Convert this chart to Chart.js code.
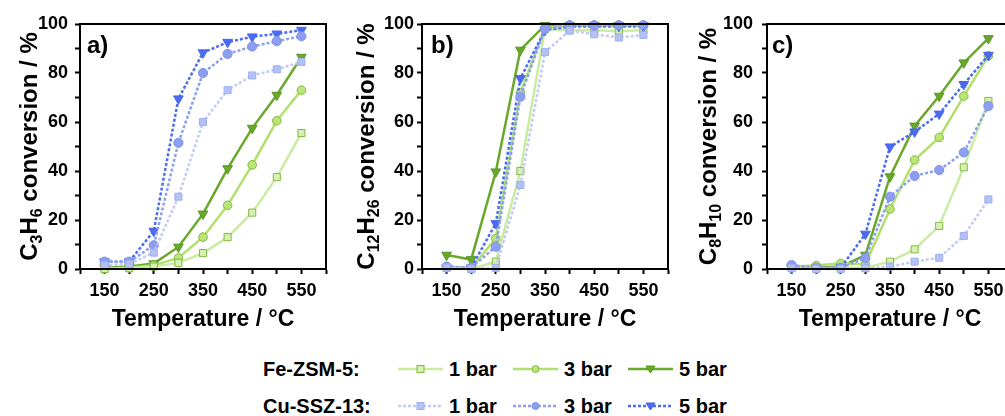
<!DOCTYPE html>
<html><head><meta charset="utf-8">
<script src="https://cdn.jsdelivr.net/npm/chart.js@4/dist/chart.umd.min.js"></script>
<style>
html,body{margin:0;padding:0;background:#fff;width:1005px;height:416px;overflow:hidden;position:relative;font-family:"Liberation Sans",Arial,sans-serif;}
canvas.panel{position:absolute;top:0;}
.lg{position:absolute;font-weight:bold;font-size:20px;line-height:24px;color:#000;white-space:nowrap;}
svg.smp{position:absolute;}
</style></head><body>
<canvas class="panel" id="pa" width="340" height="340" style="left:0px"></canvas>
<canvas class="panel" id="pb" width="340" height="340" style="left:342px"></canvas>
<canvas class="panel" id="pc" width="340" height="340" style="left:687px"></canvas>
<div id="legend"></div>
<script>
// ---- data ----
const temperatures = [150, 200, 250, 300, 350, 400, 450, 500, 550];
const xTickLabels = [150, 250, 350, 450, 550];
const yTickLabels = [0, 20, 40, 60, 80, 100];
const seriesNames = ['Fe-ZSM-5 1 bar','Fe-ZSM-5 3 bar','Fe-ZSM-5 5 bar','Cu-SSZ-13 1 bar','Cu-SSZ-13 3 bar','Cu-SSZ-13 5 bar'];
const legendGroups = ['Fe-ZSM-5:', 'Cu-SSZ-13:'];
const legendItems = ['1 bar', '3 bar', '5 bar'];
const panelLetters = ['a)', 'b)', 'c)'];
// y-axis titles as [text, isSubscript] pieces
const yTitleA = [['C', 0], ['3', 1], ['H', 0], ['6', 1], [' conversion / %', 0]];
const yTitleB = [['C', 0], ['12', 1], ['H', 0], ['26', 1], [' conversion / %', 0]];
const yTitleC = [['C', 0], ['8', 1], ['H', 0], ['10', 1], [' conversion / %', 0]];
const xTitle = 'Temperature / °C';

// panel a: C3H6
const a_fe1 = [0, 0.3, 1, 2.5, 6.5, 13, 23, 37.5, 55.5];
const a_fe3 = [0.2, 0.5, 1.5, 4.5, 13, 26, 42.5, 60.5, 73];
const a_fe5 = [0.5, 1, 2.2, 9, 22.5, 41, 57.5, 71, 86.5];
const a_cu1 = [1.5, 2, 6.7, 29.5, 60, 73, 79, 81.5, 84.5];
const a_cu3 = [3, 3, 9.7, 51.5, 80, 87.8, 90.8, 93, 95];
const a_cu5 = [3, 3, 15.5, 69.5, 88.3, 92.6, 94.8, 96, 97.5];
// panel b: C12H26
const b_fe1 = [0.5, 0, 3, 40, 98, 97.5, 97.5, 97, 97.5];
const b_fe3 = [1, 0.3, 12.5, 72, 98.5, 99.5, 99.5, 99.5, 99.5];
const b_fe5 = [5.7, 3.9, 39.7, 89.4, 99.5, 99.5, 99.5, 99.5, 99.5];
const b_cu1 = [0.5, 0, 0.5, 34.3, 88.5, 97.3, 95.8, 94.5, 95.5];
const b_cu3 = [1, 0.5, 9.1, 70.3, 98, 99.5, 99.5, 99.5, 99.5];
const b_cu5 = [0.5, 0.5, 18.6, 77.8, 97.5, 99, 99, 99, 99];
// panel c: C8H10
const c_fe1 = [0.5, 0.3, 0.5, 0.5, 3, 8, 17.6, 41.5, 68.6];
const c_fe3 = [1, 1.4, 2.3, 1.9, 24.5, 44.5, 53.7, 70.6, 87];
const c_fe5 = [0.5, 0.5, 1, 5.7, 37.7, 58.4, 70.6, 84.2, 94.1];
const c_cu1 = [0.3, 0, 0, 0.3, 1, 3, 4.6, 13.5, 28.4];
const c_cu3 = [1.6, 0.5, 0.5, 4.4, 29.5, 38, 40.4, 47.6, 66.5];
const c_cu5 = [0.5, 0.3, 0.5, 14.3, 49.9, 56, 63.3, 75.4, 87.3];

// ---- styles ----
const styles = [
  {line:'#c9eca0', fill:'#d6f2b2', edge:'#86b843', shape:'rect',     r:5,   rot:0,   dash:[],    w:2.5},
  {line:'#b1e06e', fill:'#b9e677', edge:'#86b843', shape:'circle',   r:4.3, rot:0,   dash:[],    w:2.5},
  {line:'#68a82a', fill:'#68a82a', edge:'#5a9623', shape:'triangle', r:5.6, rot:180, dash:[],    w:2.5},
  {line:'#c3cbf5', fill:'#b4c1f5', edge:'#9fb0f0', shape:'rect',     r:5,   rot:0,   dash:[3,2], w:2.5},
  {line:'#8c9ef0', fill:'#8c9ef0', edge:'#8092ee', shape:'circle',   r:4.6, rot:0,   dash:[3,2], w:2.5},
  {line:'#4b6bf0', fill:'#4b6bf0', edge:'#4565ee', shape:'triangle', r:5.6, rot:180, dash:[3,2], w:2.5}
];

const FONT = '"Liberation Sans", Arial, sans-serif';

const framePlugin = {
  id: 'frame',
  afterDraw(chart, args, opts) {
    const {ctx, chartArea: {left, top, right, bottom}} = chart;
    ctx.save();
    ctx.strokeStyle = '#000';
    ctx.lineWidth = 2;
    ctx.strokeRect(left, top, right - left, bottom - top);
    ctx.fillStyle = '#000';
    // panel letter
    ctx.font = 'bold 24px ' + FONT;
    ctx.textBaseline = 'alphabetic';
    ctx.textAlign = 'left';
    ctx.fillText(opts.letter, left + opts.dx, top + 29);
    // y-axis title with subscripts
    const mainF = 'bold 24px ' + FONT, subF = 'bold 16px ' + FONT;
    let total = 0;
    opts.ytitle.forEach(p => { ctx.font = p[1] ? subF : mainF; total += ctx.measureText(p[0]).width; });
    ctx.translate(opts.baseX, (top + bottom) / 2);
    ctx.rotate(-Math.PI / 2);
    let x = -total / 2;
    opts.ytitle.forEach(p => {
      ctx.font = p[1] ? subF : mainF;
      ctx.fillText(p[0], x, p[1] ? 5 : 0);
      x += ctx.measureText(p[0]).width;
    });
    ctx.restore();
  }
};

function makePanel(id, series, idx, ytitle, baseX, tickPad, letterDx) {
  // Cu series first so they are drawn on top
  const order = [3, 4, 5, 0, 1, 2];
  const datasets = order.map(k => {
    const s = styles[k];
    return {
      label: seriesNames[k],
      data: temperatures.map((t, i) => ({x: t, y: series[k][i]})),
      borderColor: s.line,
      borderWidth: s.w,
      borderDash: s.dash,
      backgroundColor: s.fill,
      pointBackgroundColor: s.fill,
      pointBorderColor: s.edge,
      pointBorderWidth: 1,
      pointStyle: s.shape,
      pointRotation: s.rot,
      pointRadius: s.r,
      pointHoverRadius: s.r,
      tension: 0,
      clip: false
    };
  });
  return new Chart(document.getElementById(id), {
    type: 'line',
    data: {datasets},
    plugins: [framePlugin],
    options: {
      responsive: false,
      animation: false,
      devicePixelRatio: 1,
      layout: {padding: {top: 24, right: 14, left: 0, bottom: 0}},
      plugins: {legend: {display: false}, tooltip: {enabled: false},
                frame: {letter: panelLetters[idx], dx: letterDx, ytitle: ytitle, baseX: baseX}},
      scales: {
        x: {
          type: 'linear', min: 100, max: 600,
          afterFit: s => { s.height = 71; },
          ticks: {stepSize: 50, autoSkip: false, maxRotation: 0, color: '#000', padding: 6,
                  font: {family: FONT, size: 18, weight: 'bold'},
                  callback: v => xTickLabels.includes(v) ? String(v) : ''},
          grid: {drawOnChartArea: false, tickLength: 5, tickColor: '#000', tickWidth: 2},
          border: {color: '#000', width: 2},
          title: {display: true, text: xTitle, color: '#000', padding: {top: 0, bottom: 7},
                  font: {family: FONT, size: 23, weight: 'bold'}}
        },
        y: {
          min: 0, max: 100,
          afterFit: s => { s.width = 80; },
          ticks: {stepSize: 10, autoSkip: false, color: '#000', padding: tickPad,
                  font: {family: FONT, size: 18, weight: 'bold'},
                  callback: v => yTickLabels.includes(v) ? String(v) : ''},
          grid: {drawOnChartArea: false, tickLength: 5, tickColor: '#000', tickWidth: 2},
          border: {color: '#000', width: 2},
          title: {display: false}
        }
      }
    }
  });
}

makePanel('pa', [a_fe1, a_fe3, a_fe5, a_cu1, a_cu3, a_cu5], 0, yTitleA, 37, 7, 7);
makePanel('pb', [b_fe1, b_fe3, b_fe5, b_cu1, b_cu3, b_cu5], 1, yTitleB, 32, 3, 9);
makePanel('pc', [c_fe1, c_fe3, c_fe5, c_cu1, c_cu3, c_cu5], 2, yTitleC, 29, 9, 5);

// ---- legend ----
(function () {
  const lg = document.getElementById('legend');
  const rowsY = [369, 406];
  const groupX = 263;
  const sampleX = [398, 513, 628];
  const sampleW = 45;
  const textX = [449, 564, 679];
  const svgNS = 'http://www.w3.org/2000/svg';
  legendGroups.forEach((g, row) => {
    const d = document.createElement('div');
    d.className = 'lg'; d.textContent = g;
    d.style.left = groupX + 'px'; d.style.top = (rowsY[row] - 12) + 'px';
    lg.appendChild(d);
    legendItems.forEach((it, col) => {
      const s = styles[row * 3 + col];
      const svg = document.createElementNS(svgNS, 'svg');
      svg.setAttribute('class', 'smp');
      svg.setAttribute('width', sampleW); svg.setAttribute('height', 14);
      svg.style.left = sampleX[col] + 'px'; svg.style.top = (rowsY[row] - 7) + 'px';
      const ln = document.createElementNS(svgNS, 'line');
      ln.setAttribute('x1', 0); ln.setAttribute('x2', sampleW);
      ln.setAttribute('y1', 7); ln.setAttribute('y2', 7);
      ln.setAttribute('stroke', s.line); ln.setAttribute('stroke-width', s.w);
      if (s.dash.length) ln.setAttribute('stroke-dasharray', s.dash.join(','));
      svg.appendChild(ln);
      let m;
      const cx = sampleW / 2, cy = 7;
      if (s.shape === 'rect') {
        m = document.createElementNS(svgNS, 'rect');
        m.setAttribute('x', cx - 3.5); m.setAttribute('y', cy - 3.5);
        m.setAttribute('width', 7); m.setAttribute('height', 7);
      } else if (s.shape === 'circle') {
        m = document.createElementNS(svgNS, 'circle');
        m.setAttribute('cx', cx); m.setAttribute('cy', cy); m.setAttribute('r', 3.5);
      } else {
        m = document.createElementNS(svgNS, 'polygon');
        m.setAttribute('points', `${cx-4.5},${cy-3} ${cx+4.5},${cy-3} ${cx},${cy+4}`);
      }
      m.setAttribute('fill', s.fill); m.setAttribute('stroke', s.edge); m.setAttribute('stroke-width', 1);
      svg.appendChild(m);
      lg.appendChild(svg);
      const t = document.createElement('div');
      t.className = 'lg'; t.textContent = it;
      t.style.left = textX[col] + 'px'; t.style.top = (rowsY[row] - 12) + 'px';
      lg.appendChild(t);
    });
  });
})();
</script>
</body></html>
